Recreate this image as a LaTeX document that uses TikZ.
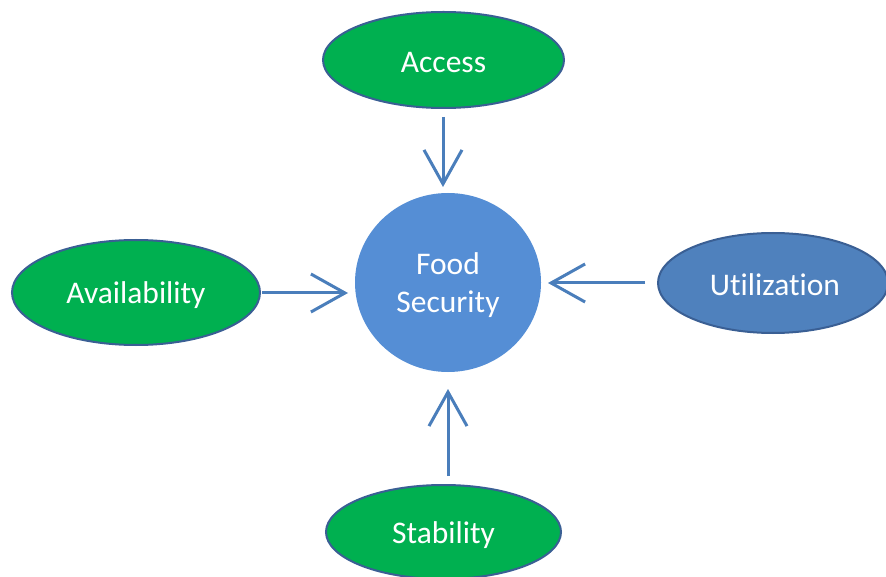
\documentclass[tikz,border=0pt]{standalone}
\usepackage{fontspec}
\setmainfont[RawFeature=-liga]{Carlito}
\usetikzlibrary{arrows.meta,shapes.geometric}
\definecolor{okgreen}{HTML}{00B050}
\definecolor{edgeblue}{HTML}{3A5F94}
\definecolor{circblue}{HTML}{558ED5}
\definecolor{utilblue}{HTML}{4F81BD}
\definecolor{arrblue}{HTML}{4A7EBB}
\tikzset{
  oval/.style={ellipse, draw=edgeblue, line width=2pt, fill=okgreen, text=white, font=\fontsize{31.5}{38}\selectfont, inner sep=0pt},
  hub/.style={ellipse, fill=circblue, text=white, font=\fontsize{31.5}{38.5}\selectfont, align=center, inner sep=0pt},
  lbl/.style={text=white, font=\fontsize{31.5}{38.5}\selectfont, align=center, inner sep=0pt},
  link/.style={draw=arrblue, line width=3pt, -{Straight Barb[length=34pt, width=38pt, line width=3pt]}}
}
\begin{document}
\begin{tikzpicture}[x=1pt,y=-1pt]
\useasboundingbox (0,0) rectangle (886,577);
\node[oval, minimum width=241pt, minimum height=96pt] (acc) at (443.5,60) {};
\node[oval, minimum width=248pt, minimum height=105pt] (ava) at (136,292.5) {};
\node[oval, fill=utilblue, minimum width=230pt, minimum height=100pt] (uti) at (773,283) {};
\node[oval, minimum width=235pt, minimum height=94pt] (sta) at (443.5,532) {};
\node[hub, minimum width=186pt, minimum height=179pt] (fs) at (448,282.5) {};
\node[lbl] (tacc) at (443.5,63) {Access};
\node[lbl] (tava) at (136,295) {Availability};
\node[lbl] (tuti) at (775,285) {Utilization};
\node[lbl] (tsta) at (443.5,535) {Stability};
\node[lbl] (tfs) at (448,285) {Food\\Security};
\coordinate (a1) at (443,117);
\coordinate (a2) at (443,187);
\coordinate (b1) at (262,293);
\coordinate (b2) at (348,293);
\coordinate (c1) at (645,283);
\coordinate (c2) at (548,283);
\coordinate (d1) at (448,476);
\coordinate (d2) at (448,389);
\draw[link] (a1) -- (a2);
\draw[link] (b1) -- (b2);
\draw[link] (c1) -- (c2);
\draw[link] (d1) -- (d2);
\end{tikzpicture}
\end{document}
